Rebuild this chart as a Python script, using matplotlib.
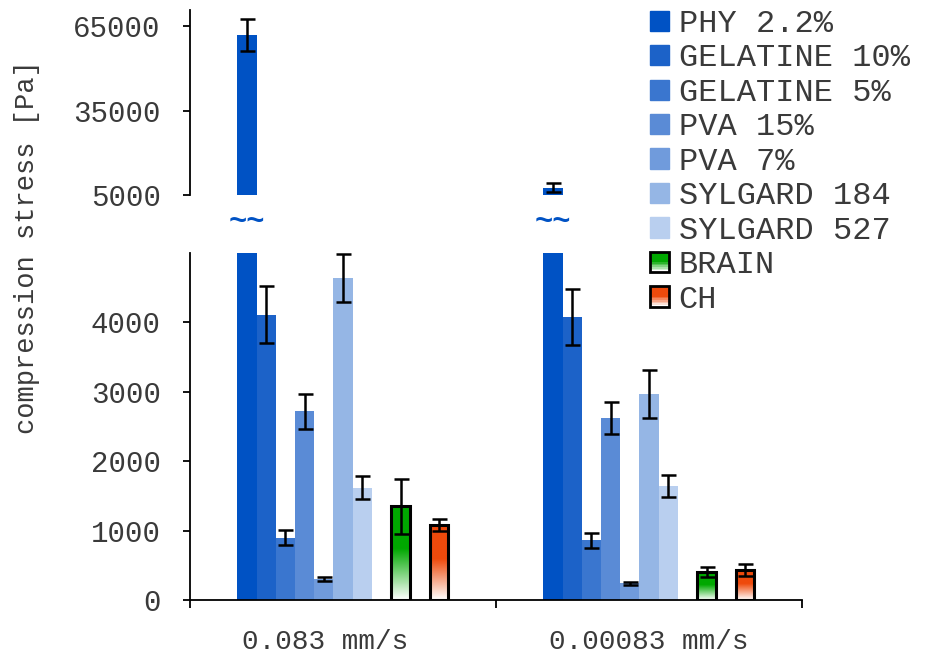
import matplotlib
matplotlib.use("Agg")
import matplotlib.pyplot as plt
import matplotlib.transforms as mtransforms
from matplotlib.patches import Rectangle
from matplotlib.legend_handler import HandlerBase
import numpy as np

plt.rcParams['font.family'] = ['Liberation Mono', 'DejaVu Sans Mono']

# data
categories = ['0.083 mm/s', '0.00083 mm/s']
materials = ['PHY 2.2%', 'GELATINE 10%', 'GELATINE 5%', 'PVA 15%', 'PVA 7%',
             'SYLGARD 184', 'SYLGARD 527']
means = [[61800, 7600],   # PHY 2.2%
         [4110, 4080],    # GELATINE 10%
         [900, 860],      # GELATINE 5%
         [2720, 2620],    # PVA 15%
         [300, 240],      # PVA 7%
         [4640, 2970],    # SYLGARD 184
         [1620, 1640]]    # SYLGARD 527
errors = [[5700, 1600],
          [410, 400],
          [105, 110],
          [250, 230],
          [25, 20],
          [340, 350],
          [160, 160]]
brain_mean = [1350, 400]
brain_err = [400, 75]
ch_mean = [1080, 430]
ch_err = [90, 85]

blues = ['#0052c4', '#1c62c8', '#3a76cf', '#5a8bd6', '#709bdc', '#95b6e5', '#b9cfef']
green = '#00a800'
red = '#ee4a0c'
txt_col = '#3a3a3a'

fig = plt.figure(figsize=(9.27, 6.59), dpi=100)
ax_top = fig.add_axes([190/927, 1 - 195/659, 612/927, 185/659])
ax = fig.add_axes([190/927, 1 - 600/659, 612/927, 347/659], sharex=ax_top)

w = 0.0627
x = np.arange(len(categories))


def gradient_rgba(col, n=100):
    c = np.array(matplotlib.colors.to_rgb(col))
    t = np.linspace(0, 1, n)
    mix = np.clip(t / 0.55, 0, 1)[:, None]
    rgb = (1 - mix) * np.ones(3) + mix * c
    return np.concatenate([rgb, np.ones((n, 1))], axis=1)[:, None, :]


def gradient_bars(a, xs, vals, errs, col):
    bars = a.bar(xs, vals, w * 0.98, facecolor='none', edgecolor='black',
                 linewidth=2.2, zorder=3)
    img = gradient_rgba(col)
    for b in bars:
        im = a.imshow(img, extent=[b.get_x(), b.get_x() + b.get_width(), 0, b.get_height()],
                      origin='lower', aspect='auto', zorder=2, interpolation='bilinear')
        im.set_clip_path(b)
    a.errorbar(xs, vals, yerr=errs, fmt='none', ecolor='black', elinewidth=1.8,
               capsize=5.4, capthick=1.8, zorder=4)


def blue_series(a, k):
    a.bar(x + (k - 5) * w, means[k], w, color=blues[k], linewidth=0, zorder=2)
    a.errorbar(x + (k - 5) * w, means[k], yerr=errors[k], fmt='none',
               ecolor='black', elinewidth=1.8, capsize=5.4, capthick=1.8, zorder=4)


# lower panel: everything
for k in range(len(materials)):
    blue_series(ax, k)
gradient_bars(ax, x + 3 * w, brain_mean, brain_err, green)
gradient_bars(ax, x + 5 * w, ch_mean, ch_err, red)

# upper panel: only PHY reaches it
blue_series(ax_top, 0)

# axes limits and ticks
ax.set_xlim(-0.5, 1.5)
ax.set_ylim(0, 5000)
ax_top.set_ylim(5000, 70700)
ax.set_yticks([0, 1000, 2000, 3000, 4000])
ax_top.set_yticks([5000, 35000, 65000])

for a in (ax_top, ax):
    a.spines['top'].set_visible(False)
    a.spines['right'].set_visible(False)
    a.spines['left'].set_linewidth(1.3)
    a.tick_params(axis='y', direction='out', length=5, width=1.3, pad=16,
                  labelsize=21, labelcolor=txt_col)
ax_top.spines['bottom'].set_visible(False)
ax_top.tick_params(axis='x', which='both', bottom=False, labelbottom=False)

ax.spines['bottom'].set_linewidth(1.3)
ax.set_xticks(x)
ax.set_xticklabels(categories)
ax.set_xticks([-0.5, 0.5, 1.5], minor=True)
ax.tick_params(axis='x', which='major', length=0, pad=21, labelsize=20, labelcolor=txt_col)
ax.tick_params(axis='x', which='minor', direction='out', length=6, width=1.3)
# first label sits a little left of its group in the original
ax.get_xticklabels()[0].set_transform(
    ax.get_xticklabels()[0].get_transform()
    + mtransforms.ScaledTranslation(-18/100, 0, fig.dpi_scale_trans))

# break markers
trans = mtransforms.blended_transform_factory(ax.transData, ax.transAxes)
for xi in x:
    ax.text(xi - 5 * w, 1.089, '~~', transform=trans, ha='center', va='center',
            fontsize=22, fontweight='bold', color=blues[0], clip_on=False)

fig.text(27/927, 1 - 247/659, 'compression stress [Pa]', rotation=90,
         ha='center', va='center', fontsize=19.5, color=txt_col)


# legend with gradient swatches
class GradientHandler(HandlerBase):
    def __init__(self, col):
        super().__init__()
        self.col = col

    def create_artists(self, legend, orig_handle, xdescent, ydescent, width, height,
                       fontsize, trans):
        arts = []
        n = 12
        rgba = gradient_rgba(self.col, n)[:, 0, :]
        for i in range(n):
            arts.append(Rectangle((-xdescent, -ydescent + i * height / n), width, height / n,
                                  facecolor=rgba[i], edgecolor='none', transform=trans))
        arts.append(Rectangle((-xdescent, -ydescent), width, height, facecolor='none',
                              edgecolor='black', linewidth=2, transform=trans))
        return arts


handles = [Rectangle((0, 0), 1, 1, color=c) for c in blues]
h_brain = Rectangle((0, 0), 1, 1)
h_ch = Rectangle((0, 0), 1, 1)
handles += [h_brain, h_ch]
labels = materials + ['BRAIN', 'CH']
fig.legend(handles, labels, loc='upper left', bbox_to_anchor=(650/927, 1 - 9/659),
           frameon=False, fontsize=23, handlelength=0.6, handleheight=0.6,
           handletextpad=0.3, labelspacing=0.14, borderpad=0, borderaxespad=0,
           labelcolor=txt_col,
           handler_map={h_brain: GradientHandler(green), h_ch: GradientHandler(red)})

fig.savefig('out.png', dpi=100)
